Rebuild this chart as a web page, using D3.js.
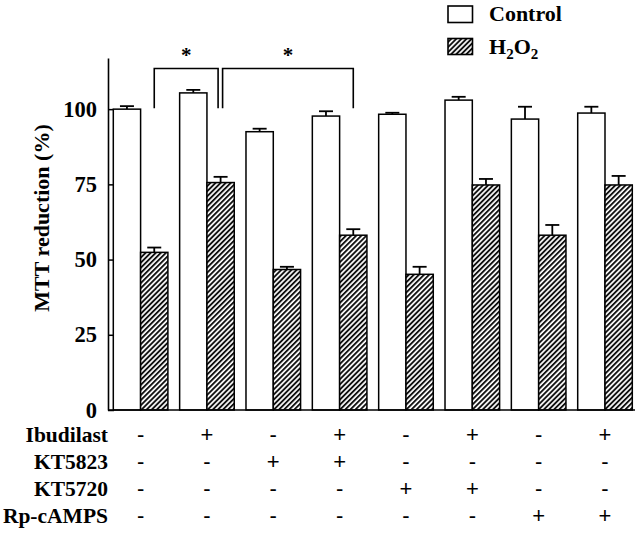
<!DOCTYPE html>
<html>
<head>
<meta charset="utf-8">
<script src="https://cdn.jsdelivr.net/npm/d3@7"></script>
<style>
  html, body { margin: 0; padding: 0; background: #fff; }
  svg { display: block; }
</style>
</head>
<body>
<svg id="chart" width="640" height="533"></svg>
<script>
// ---- data ----
const groups = ["g1", "g2", "g3", "g4", "g5", "g6", "g7", "g8"];
const series = ["Control", "H2O2"];
const controlValues = [100, 105.4, 92.5, 97.7, 98.3, 103, 96.7, 98.7];
const controlErrors = [1.0, 1.0, 1.0, 1.6, 0.5, 1.1, 4.1, 2.1];
const h2o2Values = [52.4, 75.6, 46.7, 58.1, 45.1, 74.8, 58.1, 74.8];
const h2o2Errors = [1.6, 1.9, 0.9, 2.0, 2.5, 2.0, 3.4, 3.0];
const yTicks = [0, 25, 50, 75, 100];
const yLabel = "MTT reduction (%)";
const rowLabels = ["Ibudilast", "KT5823", "KT5720", "Rp-cAMPS"];
const ibudilast = ["-", "+", "-", "+", "-", "+", "-", "+"];
const kt5823 = ["-", "-", "+", "+", "-", "-", "-", "-"];
const kt5720 = ["-", "-", "-", "-", "+", "+", "-", "-"];
const rpcamps = ["-", "-", "-", "-", "-", "-", "+", "+"];
// significance comparisons (between H2O2 bars of groups)
const compFrom = [0, 1];
const compTo = [1, 3];
const compLabel = ["*", "*"];
const compTop = 113.5;
const compLeg = 100.3;

// ---- layout ----
const svg = d3.select("#chart");
const serif = "'Liberation Serif', 'Times New Roman', serif";
const sans = "'Liberation Sans', Arial, sans-serif";

const x = d3.scaleBand().domain(groups).range([113.3, 632.3]).paddingInner(0.177).paddingOuter(0);
const xs = d3.scaleBand().domain(series).range([0, x.bandwidth()]);
const y = d3.scaleLinear().domain([0, 117]).range([410, 58]);

// hatch pattern
const defs = svg.append("defs");
const pat = defs.append("pattern")
  .attr("id", "hatch")
  .attr("patternUnits", "userSpaceOnUse")
  .attr("width", 3.6).attr("height", 3.6)
  .attr("patternTransform", "rotate(45)");
pat.append("rect").attr("width", 3.6).attr("height", 3.6).attr("fill", "#fff");
pat.append("line").attr("x1", 0.9).attr("y1", 0).attr("x2", 0.9).attr("y2", 3.6)
  .attr("stroke", "#111").attr("stroke-width", 2);

const data = [];
groups.forEach((g, i) => {
  data.push({ g, s: "Control", v: controlValues[i], e: controlErrors[i] });
  data.push({ g, s: "H2O2", v: h2o2Values[i], e: h2o2Errors[i] });
});

// error bars
const eb = svg.append("g").attr("stroke", "#000").attr("stroke-width", 1.8);
data.forEach(d => {
  const cx = x(d.g) + xs(d.s) + xs.bandwidth() / 2;
  eb.append("line").attr("x1", cx).attr("x2", cx).attr("y1", y(d.v)).attr("y2", y(d.v + d.e));
  eb.append("line").attr("x1", cx - 7).attr("x2", cx + 7).attr("y1", y(d.v + d.e)).attr("y2", y(d.v + d.e));
});

// bars
svg.append("g").selectAll("rect").data(data).join("rect")
  .attr("x", d => x(d.g) + xs(d.s))
  .attr("y", d => y(d.v))
  .attr("width", xs.bandwidth())
  .attr("height", d => y(0) - y(d.v))
  .attr("fill", d => d.s === "Control" ? "#fff" : "url(#hatch)")
  .attr("stroke", "#000")
  .attr("stroke-width", 1.5);

// y axis
const yAxis = svg.append("g").attr("transform", "translate(108,0)")
  .call(d3.axisLeft(y).tickValues(yTicks).tickSizeInner(-6).tickSizeOuter(0).tickPadding(11));
yAxis.select(".domain").attr("stroke", "#000").attr("stroke-width", 1.6);
yAxis.selectAll(".tick line").attr("stroke", "#000").attr("stroke-width", 1.5);
yAxis.selectAll(".tick text")
  .attr("font-family", serif).attr("font-weight", "bold").attr("font-size", 22.5)
  .attr("fill", "#000");

// x baseline
svg.append("line").attr("x1", 108).attr("x2", 635).attr("y1", y(0)).attr("y2", y(0))
  .attr("stroke", "#000").attr("stroke-width", 1.6);

// y label
svg.append("text")
  .attr("transform", "translate(49,218) rotate(-90)")
  .attr("text-anchor", "middle")
  .attr("font-family", serif).attr("font-weight", "bold").attr("font-size", 22)
  .text(yLabel);

// significance brackets
const br = svg.append("g").attr("stroke", "#000").attr("stroke-width", 1.6).attr("fill", "none");
compFrom.forEach((a, i) => {
  const b = compTo[i];
  const xa = x(groups[a]) + xs("H2O2") + xs.bandwidth() / 2 + (i === 1 ? 2 : 0);
  const xb = x(groups[b]) + xs("H2O2") + xs.bandwidth() / 2 + (i === 0 ? -2.5 : 0);
  br.append("path")
    .attr("d", `M${xa},${y(compLeg)}V${y(compTop)}H${xb}V${y(compLeg)}`);
  svg.append("text")
    .attr("x", (xa + xb) / 2).attr("y", 62)
    .attr("text-anchor", "middle")
    .attr("font-family", serif).attr("font-weight", "bold").attr("font-size", 21)
    .text(compLabel[i]);
});

// legend
const lg = svg.append("g");
lg.append("rect").attr("x", 448).attr("y", 6).attr("width", 24.5).attr("height", 16.5)
  .attr("fill", "#fff").attr("stroke", "#000").attr("stroke-width", 1.6);
lg.append("rect").attr("x", 448).attr("y", 38.5).attr("width", 24.5).attr("height", 16)
  .attr("fill", "url(#hatch)").attr("stroke", "#000").attr("stroke-width", 1.6);
lg.append("text").attr("x", 489).attr("y", 20.5)
  .attr("font-family", serif).attr("font-weight", "bold").attr("font-size", 22)
  .text("Control");
const ht = lg.append("text").attr("x", 489).attr("y", 53.5)
  .attr("font-family", serif).attr("font-weight", "bold").attr("font-size", 22);
ht.append("tspan").text("H");
ht.append("tspan").attr("font-size", 15).attr("dy", 5).text("2");
ht.append("tspan").attr("dy", -5).text("O");
ht.append("tspan").attr("font-size", 15).attr("dy", 5).text("2");

// treatment table
const rows = [ibudilast, kt5823, kt5720, rpcamps];
const rowY = [442, 469, 496, 523];
rows.forEach((r, ri) => {
  svg.append("text")
    .attr("x", 108).attr("y", rowY[ri])
    .attr("text-anchor", "end")
    .attr("font-family", serif).attr("font-weight", "bold").attr("font-size", 21.5)
    .text(rowLabels[ri]);
  svg.append("g").selectAll("text").data(r).join("text")
    .attr("x", (d, i) => x(groups[i]) + x.bandwidth() / 2)
    .attr("y", rowY[ri] - 0.5)
    .attr("text-anchor", "middle")
    .attr("font-family", sans).attr("font-size", 22)
    .text(d => d);
});
</script>
</body>
</html>
